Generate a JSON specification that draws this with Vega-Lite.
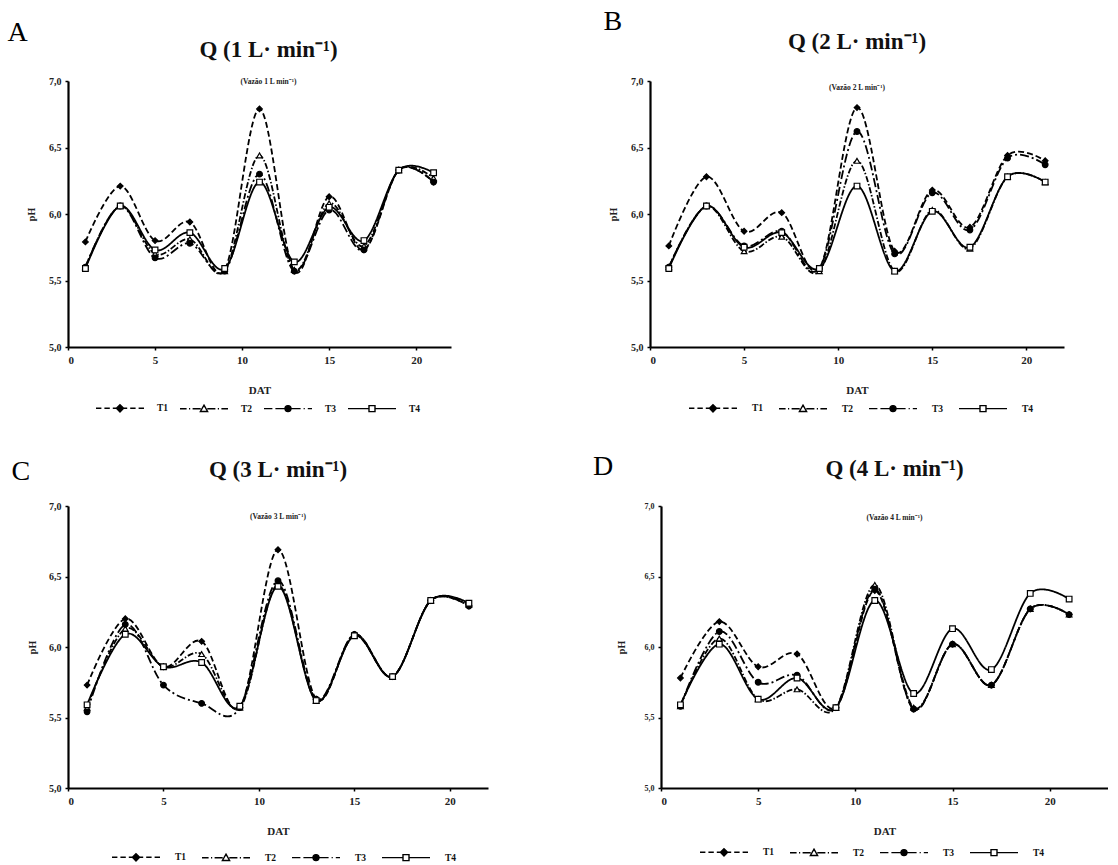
{
  "$schema": "https://vega.github.io/schema/vega-lite/v6.json",
  "background": "white",
  "padding": {"left": 7, "top": 7, "right": 0, "bottom": 0},
  "datasets": {
    "q1": [
      {"DAT": 1, "T": "T1", "pH": 5.79}, {"DAT": 3, "T": "T1", "pH": 6.21}, {"DAT": 5, "T": "T1", "pH": 5.80}, {"DAT": 7, "T": "T1", "pH": 5.94}, {"DAT": 9, "T": "T1", "pH": 5.58}, {"DAT": 11, "T": "T1", "pH": 6.79}, {"DAT": 13, "T": "T1", "pH": 5.57}, {"DAT": 15, "T": "T1", "pH": 6.13}, {"DAT": 17, "T": "T1", "pH": 5.73}, {"DAT": 19, "T": "T1", "pH": 6.33}, {"DAT": 21, "T": "T1", "pH": 6.24},
      {"DAT": 1, "T": "T2", "pH": 5.60}, {"DAT": 3, "T": "T2", "pH": 6.06}, {"DAT": 5, "T": "T2", "pH": 5.70}, {"DAT": 7, "T": "T2", "pH": 5.81}, {"DAT": 9, "T": "T2", "pH": 5.57}, {"DAT": 11, "T": "T2", "pH": 6.44}, {"DAT": 13, "T": "T2", "pH": 5.58}, {"DAT": 15, "T": "T2", "pH": 6.08}, {"DAT": 17, "T": "T2", "pH": 5.76}, {"DAT": 19, "T": "T2", "pH": 6.33}, {"DAT": 21, "T": "T2", "pH": 6.27},
      {"DAT": 1, "T": "T3", "pH": 5.60}, {"DAT": 3, "T": "T3", "pH": 6.06}, {"DAT": 5, "T": "T3", "pH": 5.67}, {"DAT": 7, "T": "T3", "pH": 5.78}, {"DAT": 9, "T": "T3", "pH": 5.57}, {"DAT": 11, "T": "T3", "pH": 6.30}, {"DAT": 13, "T": "T3", "pH": 5.57}, {"DAT": 15, "T": "T3", "pH": 6.03}, {"DAT": 17, "T": "T3", "pH": 5.73}, {"DAT": 19, "T": "T3", "pH": 6.33}, {"DAT": 21, "T": "T3", "pH": 6.24},
      {"DAT": 1, "T": "T4", "pH": 5.59}, {"DAT": 3, "T": "T4", "pH": 6.06}, {"DAT": 5, "T": "T4", "pH": 5.73}, {"DAT": 7, "T": "T4", "pH": 5.86}, {"DAT": 9, "T": "T4", "pH": 5.59}, {"DAT": 11, "T": "T4", "pH": 6.24}, {"DAT": 13, "T": "T4", "pH": 5.64}, {"DAT": 15, "T": "T4", "pH": 6.05}, {"DAT": 17, "T": "T4", "pH": 5.80}, {"DAT": 19, "T": "T4", "pH": 6.33}, {"DAT": 21, "T": "T4", "pH": 6.31}
    ],
    "q2": [
      {"DAT": 1, "T": "T1", "pH": 5.76}, {"DAT": 3, "T": "T1", "pH": 6.28}, {"DAT": 5, "T": "T1", "pH": 5.87}, {"DAT": 7, "T": "T1", "pH": 6.01}, {"DAT": 9, "T": "T1", "pH": 5.59}, {"DAT": 11, "T": "T1", "pH": 6.80}, {"DAT": 13, "T": "T1", "pH": 5.72}, {"DAT": 15, "T": "T1", "pH": 6.18}, {"DAT": 17, "T": "T1", "pH": 5.90}, {"DAT": 19, "T": "T1", "pH": 6.44}, {"DAT": 21, "T": "T1", "pH": 6.40},
      {"DAT": 1, "T": "T2", "pH": 5.60}, {"DAT": 3, "T": "T2", "pH": 6.06}, {"DAT": 5, "T": "T2", "pH": 5.72}, {"DAT": 7, "T": "T2", "pH": 5.83}, {"DAT": 9, "T": "T2", "pH": 5.57}, {"DAT": 11, "T": "T2", "pH": 6.40}, {"DAT": 13, "T": "T2", "pH": 5.57}, {"DAT": 15, "T": "T2", "pH": 6.03}, {"DAT": 17, "T": "T2", "pH": 5.74}, {"DAT": 19, "T": "T2", "pH": 6.28}, {"DAT": 21, "T": "T2", "pH": 6.24},
      {"DAT": 1, "T": "T3", "pH": 5.60}, {"DAT": 3, "T": "T3", "pH": 6.06}, {"DAT": 5, "T": "T3", "pH": 5.76}, {"DAT": 7, "T": "T3", "pH": 5.87}, {"DAT": 9, "T": "T3", "pH": 5.59}, {"DAT": 11, "T": "T3", "pH": 6.62}, {"DAT": 13, "T": "T3", "pH": 5.70}, {"DAT": 15, "T": "T3", "pH": 6.16}, {"DAT": 17, "T": "T3", "pH": 5.88}, {"DAT": 19, "T": "T3", "pH": 6.42}, {"DAT": 21, "T": "T3", "pH": 6.37},
      {"DAT": 1, "T": "T4", "pH": 5.59}, {"DAT": 3, "T": "T4", "pH": 6.06}, {"DAT": 5, "T": "T4", "pH": 5.75}, {"DAT": 7, "T": "T4", "pH": 5.86}, {"DAT": 9, "T": "T4", "pH": 5.59}, {"DAT": 11, "T": "T4", "pH": 6.21}, {"DAT": 13, "T": "T4", "pH": 5.57}, {"DAT": 15, "T": "T4", "pH": 6.02}, {"DAT": 17, "T": "T4", "pH": 5.75}, {"DAT": 19, "T": "T4", "pH": 6.28}, {"DAT": 21, "T": "T4", "pH": 6.24}
    ],
    "q3": [
      {"DAT": 1, "T": "T1", "pH": 5.73}, {"DAT": 3, "T": "T1", "pH": 6.20}, {"DAT": 5, "T": "T1", "pH": 5.86}, {"DAT": 7, "T": "T1", "pH": 6.04}, {"DAT": 9, "T": "T1", "pH": 5.57}, {"DAT": 11, "T": "T1", "pH": 6.69}, {"DAT": 13, "T": "T1", "pH": 5.63}, {"DAT": 15, "T": "T1", "pH": 6.09}, {"DAT": 17, "T": "T1", "pH": 5.79}, {"DAT": 19, "T": "T1", "pH": 6.33}, {"DAT": 21, "T": "T1", "pH": 6.29},
      {"DAT": 1, "T": "T2", "pH": 5.57}, {"DAT": 3, "T": "T2", "pH": 6.13}, {"DAT": 5, "T": "T2", "pH": 5.86}, {"DAT": 7, "T": "T2", "pH": 5.95}, {"DAT": 9, "T": "T2", "pH": 5.57}, {"DAT": 11, "T": "T2", "pH": 6.44}, {"DAT": 13, "T": "T2", "pH": 5.62}, {"DAT": 15, "T": "T2", "pH": 6.08}, {"DAT": 17, "T": "T2", "pH": 5.79}, {"DAT": 19, "T": "T2", "pH": 6.33}, {"DAT": 21, "T": "T2", "pH": 6.30},
      {"DAT": 1, "T": "T3", "pH": 5.54}, {"DAT": 3, "T": "T3", "pH": 6.16}, {"DAT": 5, "T": "T3", "pH": 5.73}, {"DAT": 7, "T": "T3", "pH": 5.60}, {"DAT": 9, "T": "T3", "pH": 5.57}, {"DAT": 11, "T": "T3", "pH": 6.47}, {"DAT": 13, "T": "T3", "pH": 5.63}, {"DAT": 15, "T": "T3", "pH": 6.09}, {"DAT": 17, "T": "T3", "pH": 5.79}, {"DAT": 19, "T": "T3", "pH": 6.33}, {"DAT": 21, "T": "T3", "pH": 6.29},
      {"DAT": 1, "T": "T4", "pH": 5.59}, {"DAT": 3, "T": "T4", "pH": 6.09}, {"DAT": 5, "T": "T4", "pH": 5.86}, {"DAT": 7, "T": "T4", "pH": 5.89}, {"DAT": 9, "T": "T4", "pH": 5.58}, {"DAT": 11, "T": "T4", "pH": 6.43}, {"DAT": 13, "T": "T4", "pH": 5.62}, {"DAT": 15, "T": "T4", "pH": 6.08}, {"DAT": 17, "T": "T4", "pH": 5.79}, {"DAT": 19, "T": "T4", "pH": 6.33}, {"DAT": 21, "T": "T4", "pH": 6.31}
    ],
    "q4": [
      {"DAT": 1, "T": "T1", "pH": 5.78}, {"DAT": 3, "T": "T1", "pH": 6.18}, {"DAT": 5, "T": "T1", "pH": 5.86}, {"DAT": 7, "T": "T1", "pH": 5.95}, {"DAT": 9, "T": "T1", "pH": 5.57}, {"DAT": 11, "T": "T1", "pH": 6.40}, {"DAT": 13, "T": "T1", "pH": 5.56}, {"DAT": 15, "T": "T1", "pH": 6.02}, {"DAT": 17, "T": "T1", "pH": 5.73}, {"DAT": 19, "T": "T1", "pH": 6.27}, {"DAT": 21, "T": "T1", "pH": 6.23},
      {"DAT": 1, "T": "T2", "pH": 5.58}, {"DAT": 3, "T": "T2", "pH": 6.06}, {"DAT": 5, "T": "T2", "pH": 5.63}, {"DAT": 7, "T": "T2", "pH": 5.70}, {"DAT": 9, "T": "T2", "pH": 5.57}, {"DAT": 11, "T": "T2", "pH": 6.44}, {"DAT": 13, "T": "T2", "pH": 5.57}, {"DAT": 15, "T": "T2", "pH": 6.02}, {"DAT": 17, "T": "T2", "pH": 5.73}, {"DAT": 19, "T": "T2", "pH": 6.27}, {"DAT": 21, "T": "T2", "pH": 6.23},
      {"DAT": 1, "T": "T3", "pH": 5.58}, {"DAT": 3, "T": "T3", "pH": 6.11}, {"DAT": 5, "T": "T3", "pH": 5.75}, {"DAT": 7, "T": "T3", "pH": 5.80}, {"DAT": 9, "T": "T3", "pH": 5.57}, {"DAT": 11, "T": "T3", "pH": 6.41}, {"DAT": 13, "T": "T3", "pH": 5.56}, {"DAT": 15, "T": "T3", "pH": 6.02}, {"DAT": 17, "T": "T3", "pH": 5.73}, {"DAT": 19, "T": "T3", "pH": 6.27}, {"DAT": 21, "T": "T3", "pH": 6.23},
      {"DAT": 1, "T": "T4", "pH": 5.59}, {"DAT": 3, "T": "T4", "pH": 6.02}, {"DAT": 5, "T": "T4", "pH": 5.63}, {"DAT": 7, "T": "T4", "pH": 5.78}, {"DAT": 9, "T": "T4", "pH": 5.57}, {"DAT": 11, "T": "T4", "pH": 6.33}, {"DAT": 13, "T": "T4", "pH": 5.67}, {"DAT": 15, "T": "T4", "pH": 6.13}, {"DAT": 17, "T": "T4", "pH": 5.84}, {"DAT": 19, "T": "T4", "pH": 6.38}, {"DAT": 21, "T": "T4", "pH": 6.34}
    ]
  },
  "config": {
    "view": {"stroke": null},
    "font": "Liberation Serif",
    "axis": {
      "grid": false,
      "domainColor": "#000", "domainWidth": 2.2,
      "tickColor": "#000", "tickWidth": 1.5, "tickSize": 3,
      "labelPadding": 4,
      "labelFont": "Liberation Serif", "labelFontWeight": "bold", "labelFontSize": 10, "labelColor": "#222",
      "titleFont": "Liberation Serif", "titleFontWeight": "bold", "titleFontSize": 10, "titleColor": "#222"
    },
    "axisX": {"titlePadding": 19, "titleFontSize": 11, "labelFontSize": 11},
    "legend": {
      "orient": "none", "direction": "horizontal", "padding": 0,
      "symbolSize": 144, "symbolStrokeWidth": 1.4, "symbolStrokeColor": "#000",
      "labelOffset": 32, "columnPadding": 12,
      "labelFont": "Liberation Serif", "labelFontWeight": "bold", "labelFontSize": 9.5, "labelColor": "#111"
    },
    "title": {"font": "Liberation Serif", "color": "#111", "subtitleFont": "Liberation Serif", "subtitleColor": "#222", "subtitleFontSize": 7.5, "subtitleFontWeight": "bold"}
  },
  "resolve": {"scale": {"shape": "independent", "fill": "independent", "stroke": "independent"}, "legend": {"shape": "independent", "fill": "independent", "stroke": "independent"}},
  "spacing": 37,
  "vconcat": [
    {
      "spacing": 152,
      "resolve": {"scale": {"shape": "independent", "fill": "independent", "stroke": "independent"}, "legend": {"shape": "independent", "fill": "independent", "stroke": "independent"}},
      "hconcat": [
        {
          "title": {"text": "A", "anchor": "start", "fontSize": 28, "fontWeight": "normal", "color": "#000", "dx": -19, "offset": -8},
          "vconcat": [
            {
              "title": {"text": "Q (1 L· min⁻¹)", "subtitle": "(Vazão 1 L min⁻¹)", "fontSize": 23, "fontWeight": "bold", "subtitlePadding": 16, "offset": -9, "dx": 9},
              "width": 383, "height": 266,
              "data": {"name": "q1"},
              "encoding": {
                "x": {"field": "DAT", "type": "quantitative", "scale": {"domain": [0, 22], "nice": false}, "axis": {"values": [0, 5, 10, 15, 20], "title": "DAT"}},
                "y": {"field": "pH", "type": "quantitative", "scale": {"domain": [5, 7], "nice": false, "zero": false}, "axis": {"values": [5, 5.5, 6, 6.5, 7], "labelExpr": "replace(format(datum.value, '.1f'), '.', ',')", "title": "pH", "titlePadding": 12}}
              },
              "layer": [
                {
                  "mark": {"type": "line", "interpolate": "cardinal", "tension": 0, "strokeWidth": 1.8, "color": "#000"},
                  "encoding": {
                    "detail": {"field": "T"},
                    "strokeDash": {"condition": [{"test": "datum.T === 'T1'", "value": [6, 3]}, {"test": "datum.T === 'T2'", "value": [6, 2, 1.5, 2]}, {"test": "datum.T === 'T3'", "value": [9, 3, 2, 3]}], "value": [1, 0]}
                  }
                },
                {
                  "mark": {"type": "point", "filled": true, "size": 32, "stroke": "#000", "strokeWidth": 1.2, "opacity": 1},
                  "encoding": {
                    "shape": {"condition": [{"test": "datum.T === 'T1'", "value": "diamond"}, {"test": "datum.T === 'T2'", "value": "triangle-up"}, {"test": "datum.T === 'T3'", "value": "circle"}], "value": "square"},
                    "fill": {"condition": {"test": "datum.T === 'T1' || datum.T === 'T3'", "value": "#000"}, "value": "#fff"}
                  }
                },
                {
                  "transform": [{"filter": "false"}],
                  "mark": {"type": "point", "filled": true, "opacity": 1},
                  "encoding": {
                    "shape": {"field": "T", "type": "nominal", "scale": {"domain": ["T1", "T2", "T3", "T4"], "range": ["M-4,0H-3.1M-2.6,0H-1.7M-1.2,0H-0.6M0.6,0H1.2M1.7,0H2.6M3.1,0H4M0,-0.6L0.6,0L0,0.6L-0.6,0Z", "M-4,0H-2.9M-2.5,0H-2.3M-1.9,0H-0.55M0.55,0H1.9M2.3,0H2.5M2.9,0H4M0,-0.6L0.6,0.45L-0.6,0.45Z", "M-4,0H-2.6M-2.1,0H-0.5M0.5,0H2.1M2.6,0H2.8M3.3,0H4M-0.5,0A0.5,0.5 0 1,0 0.5,0A0.5,0.5 0 1,0 -0.5,0Z", "M-4,0H-0.5M0.5,0H4M-0.5,-0.5H0.5V0.5H-0.5Z"]},
                      "legend": {"title": null, "legendX": 45, "legendY": 320, "labelOffset": 30, "columnPadding": 8}},
                    "fill": {"field": "T", "type": "nominal", "scale": {"domain": ["T1", "T2", "T3", "T4"], "range": ["#000", "#fff", "#000", "#fff"]},
                      "legend": {"title": null, "legendX": 45, "legendY": 320, "labelOffset": 30, "columnPadding": 8}},
                    "stroke": {"field": "T", "type": "nominal", "scale": {"domain": ["T1", "T2", "T3", "T4"], "range": ["#000", "#000", "#000", "#000"]},
                      "legend": {"title": null, "legendX": 45, "legendY": 320, "labelOffset": 30, "columnPadding": 8}}
                  }
                }
              ]
            }
          ]
        },
        {
          "title": {"text": "B", "anchor": "start", "fontSize": 28, "fontWeight": "normal", "color": "#000", "dx": -5, "offset": -5},
          "vconcat": [
            {
              "title": {"text": "Q (2 L· min⁻¹)", "subtitle": "(Vazão 2 L min⁻¹)", "fontSize": 23, "fontWeight": "bold", "subtitlePadding": 30, "offset": -15},
              "width": 414, "height": 266,
              "data": {"name": "q2"},
              "encoding": {
                "x": {"field": "DAT", "type": "quantitative", "scale": {"domain": [0, 22], "nice": false}, "axis": {"values": [0, 5, 10, 15, 20], "title": "DAT"}},
                "y": {"field": "pH", "type": "quantitative", "scale": {"domain": [5, 7], "nice": false, "zero": false}, "axis": {"values": [5, 5.5, 6, 6.5, 7], "labelExpr": "replace(format(datum.value, '.1f'), '.', ',')", "title": "pH", "titlePadding": 12}}
              },
              "layer": [
                {
                  "mark": {"type": "line", "interpolate": "cardinal", "tension": 0, "strokeWidth": 1.8, "color": "#000"},
                  "encoding": {
                    "detail": {"field": "T"},
                    "strokeDash": {"condition": [{"test": "datum.T === 'T1'", "value": [6, 3]}, {"test": "datum.T === 'T2'", "value": [6, 2, 1.5, 2]}, {"test": "datum.T === 'T3'", "value": [9, 3, 2, 3]}], "value": [1, 0]}
                  }
                },
                {
                  "mark": {"type": "point", "filled": true, "size": 32, "stroke": "#000", "strokeWidth": 1.2, "opacity": 1},
                  "encoding": {
                    "shape": {"condition": [{"test": "datum.T === 'T1'", "value": "diamond"}, {"test": "datum.T === 'T2'", "value": "triangle-up"}, {"test": "datum.T === 'T3'", "value": "circle"}], "value": "square"},
                    "fill": {"condition": {"test": "datum.T === 'T1' || datum.T === 'T3'", "value": "#000"}, "value": "#fff"}
                  }
                },
                {
                  "transform": [{"filter": "false"}],
                  "mark": {"type": "point", "filled": true, "opacity": 1},
                  "encoding": {
                    "shape": {"field": "T", "type": "nominal", "scale": {"domain": ["T1", "T2", "T3", "T4"], "range": ["M-4,0H-3.1M-2.6,0H-1.7M-1.2,0H-0.6M0.6,0H1.2M1.7,0H2.6M3.1,0H4M0,-0.6L0.6,0L0,0.6L-0.6,0Z", "M-4,0H-2.9M-2.5,0H-2.3M-1.9,0H-0.55M0.55,0H1.9M2.3,0H2.5M2.9,0H4M0,-0.6L0.6,0.45L-0.6,0.45Z", "M-4,0H-2.6M-2.1,0H-0.5M0.5,0H2.1M2.6,0H2.8M3.3,0H4M-0.5,0A0.5,0.5 0 1,0 0.5,0A0.5,0.5 0 1,0 -0.5,0Z", "M-4,0H-0.5M0.5,0H4M-0.5,-0.5H0.5V0.5H-0.5Z"]},
                      "legend": {"title": null, "legendX": 56, "legendY": 320}},
                    "fill": {"field": "T", "type": "nominal", "scale": {"domain": ["T1", "T2", "T3", "T4"], "range": ["#000", "#fff", "#000", "#fff"]},
                      "legend": {"title": null, "legendX": 56, "legendY": 320}},
                    "stroke": {"field": "T", "type": "nominal", "scale": {"domain": ["T1", "T2", "T3", "T4"], "range": ["#000", "#000", "#000", "#000"]},
                      "legend": {"title": null, "legendX": 56, "legendY": 320}}
                  }
                }
              ]
            }
          ]
        }
      ]
    },
    {
      "spacing": 105,
      "resolve": {"scale": {"shape": "independent", "fill": "independent", "stroke": "independent"}, "legend": {"shape": "independent", "fill": "independent", "stroke": "independent"}},
      "hconcat": [
        {
          "title": {"text": "C", "anchor": "start", "fontSize": 28, "fontWeight": "normal", "color": "#000", "dx": -16, "offset": -27},
          "vconcat": [
            {
              "title": {"text": "Q (3 L· min⁻¹)", "subtitle": "(Vazão 3 L min⁻¹)", "fontSize": 23, "fontWeight": "bold", "subtitlePadding": 31, "offset": -19},
              "width": 420, "height": 282,
              "data": {"name": "q3"},
              "encoding": {
                "x": {"field": "DAT", "type": "quantitative", "scale": {"domain": [0, 22], "nice": false}, "axis": {"values": [0, 5, 10, 15, 20], "title": "DAT"}},
                "y": {"field": "pH", "type": "quantitative", "scale": {"domain": [5, 7], "nice": false, "zero": false}, "axis": {"values": [5, 5.5, 6, 6.5, 7], "labelExpr": "replace(format(datum.value, '.1f'), '.', ',')", "title": "pH", "titlePadding": 11}}
              },
              "layer": [
                {
                  "mark": {"type": "line", "interpolate": "cardinal", "tension": 0, "strokeWidth": 1.8, "color": "#000"},
                  "encoding": {
                    "detail": {"field": "T"},
                    "strokeDash": {"condition": [{"test": "datum.T === 'T1'", "value": [6, 3]}, {"test": "datum.T === 'T2'", "value": [6, 2, 1.5, 2]}, {"test": "datum.T === 'T3'", "value": [9, 3, 2, 3]}], "value": [1, 0]}
                  }
                },
                {
                  "mark": {"type": "point", "filled": true, "size": 32, "stroke": "#000", "strokeWidth": 1.2, "opacity": 1},
                  "encoding": {
                    "shape": {"condition": [{"test": "datum.T === 'T1'", "value": "diamond"}, {"test": "datum.T === 'T2'", "value": "triangle-up"}, {"test": "datum.T === 'T3'", "value": "circle"}], "value": "square"},
                    "fill": {"condition": {"test": "datum.T === 'T1' || datum.T === 'T3'", "value": "#000"}, "value": "#fff"}
                  }
                },
                {
                  "transform": [{"filter": "false"}],
                  "mark": {"type": "point", "filled": true, "opacity": 1},
                  "encoding": {
                    "shape": {"field": "T", "type": "nominal", "scale": {"domain": ["T1", "T2", "T3", "T4"], "range": ["M-4,0H-3.1M-2.6,0H-1.7M-1.2,0H-0.6M0.6,0H1.2M1.7,0H2.6M3.1,0H4M0,-0.6L0.6,0L0,0.6L-0.6,0Z", "M-4,0H-2.9M-2.5,0H-2.3M-1.9,0H-0.55M0.55,0H1.9M2.3,0H2.5M2.9,0H4M0,-0.6L0.6,0.45L-0.6,0.45Z", "M-4,0H-2.6M-2.1,0H-0.5M0.5,0H2.1M2.6,0H2.8M3.3,0H4M-0.5,0A0.5,0.5 0 1,0 0.5,0A0.5,0.5 0 1,0 -0.5,0Z", "M-4,0H-0.5M0.5,0H4M-0.5,-0.5H0.5V0.5H-0.5Z"]},
                      "legend": {"title": null, "legendX": 61, "legendY": 344}},
                    "fill": {"field": "T", "type": "nominal", "scale": {"domain": ["T1", "T2", "T3", "T4"], "range": ["#000", "#fff", "#000", "#fff"]},
                      "legend": {"title": null, "legendX": 61, "legendY": 344}},
                    "stroke": {"field": "T", "type": "nominal", "scale": {"domain": ["T1", "T2", "T3", "T4"], "range": ["#000", "#000", "#000", "#000"]},
                      "legend": {"title": null, "legendX": 61, "legendY": 344}}
                  }
                }
              ]
            }
          ]
        },
        {
          "title": {"text": "D", "anchor": "start", "fontSize": 28, "fontWeight": "normal", "color": "#000", "dx": -23, "offset": -23},
          "vconcat": [
            {
              "title": {"text": "Q (4 L· min⁻¹)", "subtitle": "(Vazão 4 L min⁻¹)", "fontSize": 23, "fontWeight": "bold", "subtitlePadding": 33, "offset": -19, "dx": 10},
              "width": 447, "height": 282,
              "data": {"name": "q4"},
              "encoding": {
                "x": {"field": "DAT", "type": "quantitative", "scale": {"domain": [0, 23], "nice": false}, "axis": {"values": [0, 5, 10, 15, 20], "title": "DAT"}},
                "y": {"field": "pH", "type": "quantitative", "scale": {"domain": [5, 7], "nice": false, "zero": false}, "axis": {"values": [5, 5.5, 6, 6.5, 7], "labelExpr": "replace(format(datum.value, '.1f'), '.', ',')", "title": "pH", "titlePadding": 18, "labelFontSize": 8}}
              },
              "layer": [
                {
                  "mark": {"type": "line", "interpolate": "cardinal", "tension": 0, "strokeWidth": 1.8, "color": "#000"},
                  "encoding": {
                    "detail": {"field": "T"},
                    "strokeDash": {"condition": [{"test": "datum.T === 'T1'", "value": [6, 3]}, {"test": "datum.T === 'T2'", "value": [6, 2, 1.5, 2]}, {"test": "datum.T === 'T3'", "value": [9, 3, 2, 3]}], "value": [1, 0]}
                  }
                },
                {
                  "mark": {"type": "point", "filled": true, "size": 32, "stroke": "#000", "strokeWidth": 1.2, "opacity": 1},
                  "encoding": {
                    "shape": {"condition": [{"test": "datum.T === 'T1'", "value": "diamond"}, {"test": "datum.T === 'T2'", "value": "triangle-up"}, {"test": "datum.T === 'T3'", "value": "circle"}], "value": "square"},
                    "fill": {"condition": {"test": "datum.T === 'T1' || datum.T === 'T3'", "value": "#000"}, "value": "#fff"}
                  }
                },
                {
                  "transform": [{"filter": "false"}],
                  "mark": {"type": "point", "filled": true, "opacity": 1},
                  "encoding": {
                    "shape": {"field": "T", "type": "nominal", "scale": {"domain": ["T1", "T2", "T3", "T4"], "range": ["M-4,0H-3.1M-2.6,0H-1.7M-1.2,0H-0.6M0.6,0H1.2M1.7,0H2.6M3.1,0H4M0,-0.6L0.6,0L0,0.6L-0.6,0Z", "M-4,0H-2.9M-2.5,0H-2.3M-1.9,0H-0.55M0.55,0H1.9M2.3,0H2.5M2.9,0H4M0,-0.6L0.6,0.45L-0.6,0.45Z", "M-4,0H-2.6M-2.1,0H-0.5M0.5,0H2.1M2.6,0H2.8M3.3,0H4M-0.5,0A0.5,0.5 0 1,0 0.5,0A0.5,0.5 0 1,0 -0.5,0Z", "M-4,0H-0.5M0.5,0H4M-0.5,-0.5H0.5V0.5H-0.5Z"]},
                      "legend": {"title": null, "legendX": 56, "legendY": 339}},
                    "fill": {"field": "T", "type": "nominal", "scale": {"domain": ["T1", "T2", "T3", "T4"], "range": ["#000", "#fff", "#000", "#fff"]},
                      "legend": {"title": null, "legendX": 56, "legendY": 339}},
                    "stroke": {"field": "T", "type": "nominal", "scale": {"domain": ["T1", "T2", "T3", "T4"], "range": ["#000", "#000", "#000", "#000"]},
                      "legend": {"title": null, "legendX": 56, "legendY": 339}}
                  }
                }
              ]
            }
          ]
        }
      ]
    }
  ]
}
